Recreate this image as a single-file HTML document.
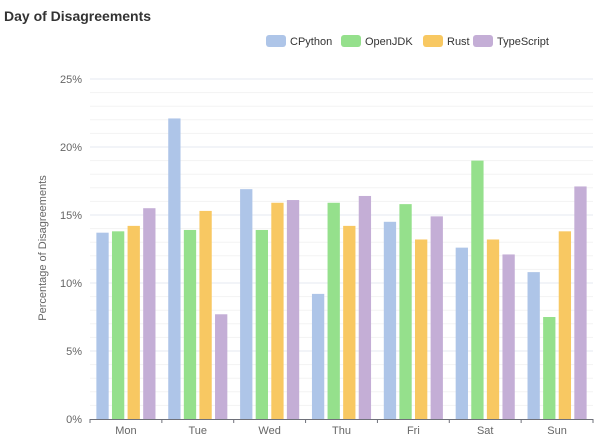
<!DOCTYPE html>
<html><head><meta charset="utf-8"><style>
body{margin:0;background:#fff;width:602px;height:442px;overflow:hidden;font-family:"Liberation Sans",sans-serif}
svg text{font-family:"Liberation Sans",sans-serif}
</style></head><body>
<svg id="c" width="602" height="442">
<text x="4" y="21" font-size="14" font-weight="bold" fill="#333">Day of Disagreements</text>
<text transform="translate(46,248) rotate(-90)" text-anchor="middle" font-size="11" fill="#666">Percentage of Disagreements</text>
</svg>
<script>
const categories=["Mon","Tue","Wed","Thu","Fri","Sat","Sun"];
const seriesNames=["CPython","OpenJDK","Rust","TypeScript"];
const cpython=[13.7,22.1,16.9,9.2,14.5,12.6,10.8];
const openjdk=[13.8,13.9,13.9,15.9,15.8,19.0,7.5];
const rust=[14.2,15.3,15.9,14.2,13.2,13.2,13.8];
const typescript=[15.5,7.7,16.1,16.4,14.9,12.1,17.1];
const yTicks=[0,5,10,15,20,25];
const series=[cpython,openjdk,rust,typescript];
const colors=["#aec5e8","#95e08c","#f8c862","#c4aed6"];
const svg=document.getElementById('c');
const NS="http://www.w3.org/2000/svg";
const x0=90,x1=593,y0=419,yTop=79,yMax=25;
const y=v=>y0-(v/yMax)*(y0-yTop);
const bw=(x1-x0)/categories.length;
const xCat=i=>x0+i*bw;
function el(t,a){const e=document.createElementNS(NS,t);for(const k in a)e.setAttribute(k,a[k]);svg.appendChild(e);return e;}
for(let v=1;v<=yMax;v++){
 if(v%5===0)continue;
 const g=el('line',{x1:x0,x2:x1,y1:y(v),y2:y(v),stroke:'#f3f3f3','stroke-width':1});
 
 
}
yTicks.forEach(v=>{
 if(v>0){const g=el('line',{x1:x0,x2:x1,y1:y(v),y2:y(v),stroke:'#e6e9f0','stroke-width':1});
 
 }
 const t=el('text',{x:x0-8,y:y(v)+4,'text-anchor':'end','font-size':11,fill:'#666'});
 t.textContent=v+'%';
 
 
});
const gap=3.3,bwid=12.3,groupW=4*bwid+3*gap;
series.forEach((s,si)=>{
 s.forEach((v,i)=>{
  const bx=xCat(i)+(bw-groupW)/2+si*(bwid+gap);
  const r=el('rect',{x:bx,y:y(v),width:bwid,height:y0-y(v),fill:colors[si]});
  
  
 });
});
const ax=el('line',{x1:x0,x2:x1,y1:y0+0.5,y2:y0+0.5,stroke:'#6e7079','stroke-width':1});


for(let i=0;i<=categories.length;i++){
 const tk=el('line',{x1:xCat(i),x2:xCat(i),y1:y0,y2:y0+4,stroke:'#6e7079'});
 
 
}
categories.forEach((c,i)=>{
 const t=el('text',{x:xCat(i)+bw/2,y:y0+15,'text-anchor':'middle','font-size':11,fill:'#666'});
 t.textContent=c;
 
 
});
const lx=[266,341,423,473];
seriesNames.forEach((n,i)=>{
 const r=el('rect',{x:lx[i],y:35,width:20,height:12,rx:3,fill:colors[i]});
 
 
 const t=el('text',{x:lx[i]+24,y:45,'font-size':11,fill:'#333'});
 t.textContent=n;
 
 
});
</script>
</body></html>
